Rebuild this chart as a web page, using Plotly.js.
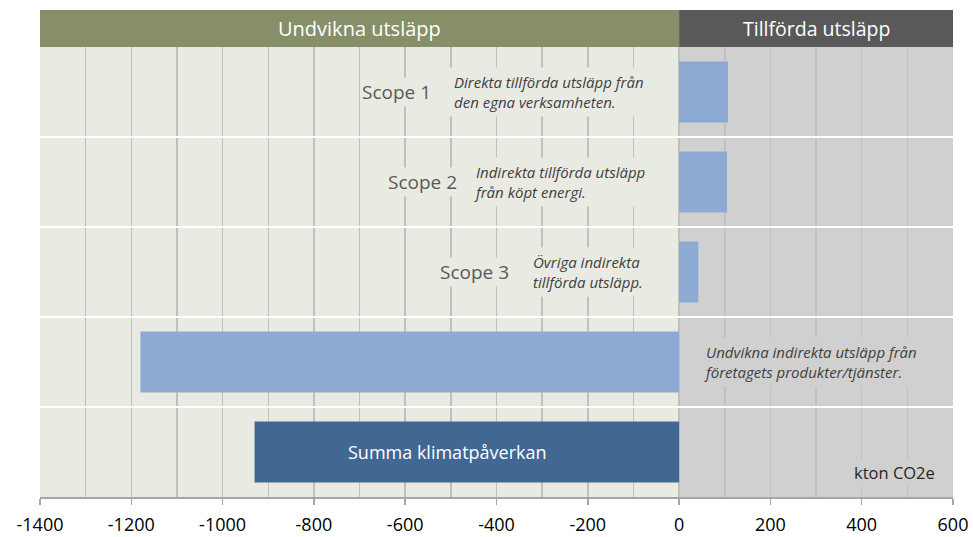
<!DOCTYPE html>
<html>
<head>
<meta charset="utf-8">
<script src="https://cdn.plot.ly/plotly-3.0.1.min.js"></script>
<style>html,body{margin:0;padding:0;background:#fff;}#chart{width:973px;height:537px;}</style>
</head>
<body>
<div id="chart"></div>
<script>
// Data
const categories = ['Scope 1', 'Scope 2', 'Scope 3', 'Undvikna', 'Summa klimatpåverkan'];
const values = [107, 105, 42, -1180, -930];
const barColors = ['#8dabd2', '#8dabd2', '#8dabd2', '#8dabd2', '#406892'];
const headerLabels = ['Undvikna utsläpp', 'Tillförda utsläpp'];
const scopeLabels = ['Scope 1', 'Scope 2', 'Scope 3'];
const scopeLabelX = [-620, -563, -449];
const descriptions = [
  'Direkta tillförda utsläpp från<br>den egna verksamheten.',
  'Indirekta tillförda utsläpp<br>från köpt energi.',
  'Övriga indirekta<br>tillförda utsläpp.',
  'Undvikna indirekta utsläpp från<br>företagets produkter/tjänster.'
];
const descX = [-504, -460, -331, 44];
const sumLabel = 'Summa klimatpåverkan';
const unitLabel = 'kton CO2e';
const xTicks = [-1400, -1200, -1000, -800, -600, -400, -200, 0, 200, 400, 600];

const trace = {
  type: 'bar',
  orientation: 'h',
  y: categories,
  x: values,
  marker: {color: barColors},
  width: 0.68,
  hoverinfo: 'x+y'
};

const leftBg = '#e9ebe2';
const rightBg = '#d0d0d0';

const annotations = [];
scopeLabels.forEach((s, i) => {
  annotations.push({x: scopeLabelX[i], y: categories[i], text: s, showarrow: false,
    xanchor: 'center', yanchor: 'middle', bgcolor: leftBg, borderpad: 1,
    font: {family: 'Open Sans, sans-serif', size: 19, color: '#595959'}});
});
descriptions.forEach((d, i) => {
  annotations.push({x: descX[i], y: categories[i], text: '<i>' + d + '</i>', showarrow: false,
    xanchor: 'left', yanchor: 'middle', align: 'left', bgcolor: i < 3 ? leftBg : rightBg, borderpad: 4,
    font: {family: 'Open Sans, sans-serif', size: 15, color: '#404040'}});
});
annotations.push({x: -508, y: categories[4], text: sumLabel, showarrow: false,
  xanchor: 'center', yanchor: 'middle',
  font: {family: 'Open Sans, sans-serif', size: 18, color: '#ffffff'}});
annotations.push({x: 378, y: categories[4], yshift: -20, text: unitLabel, showarrow: false,
  xanchor: 'left', yanchor: 'middle', bgcolor: rightBg,
  font: {family: 'Open Sans, sans-serif', size: 16.5, color: '#262626'}});
annotations.push({x: -700, y: 1.041, yref: 'paper', text: headerLabels[0], showarrow: false,
  xanchor: 'center', yanchor: 'middle',
  font: {family: 'Open Sans, sans-serif', size: 20, color: '#ffffff'}});
annotations.push({x: 300, y: 1.041, yref: 'paper', text: headerLabels[1], showarrow: false,
  xanchor: 'center', yanchor: 'middle',
  font: {family: 'Open Sans, sans-serif', size: 19.5, color: '#ffffff'}});

const shapes = [
  {type: 'rect', xref: 'x', yref: 'paper', x0: -1400, x1: 0, y0: 0, y1: 1, fillcolor: leftBg, line: {width: 0}, layer: 'below'},
  {type: 'rect', xref: 'x', yref: 'paper', x0: 0, x1: 600, y0: 0, y1: 1, fillcolor: rightBg, line: {width: 0}, layer: 'below'},
  {type: 'rect', xref: 'x', yref: 'paper', x0: -1400, x1: 0, y0: 1, y1: 1 + 37/450, fillcolor: '#868f68', line: {width: 0}},
  {type: 'rect', xref: 'x', yref: 'paper', x0: 0, x1: 600, y0: 1, y1: 1 + 37/450, fillcolor: '#595959', line: {width: 0}}
];

const layout = {
  width: 973, height: 537,
  margin: {l: 40, r: 20, t: 47, b: 40},
  paper_bgcolor: '#ffffff',
  plot_bgcolor: 'rgba(0,0,0,0)',
  showlegend: false,
  xaxis: {
    range: [-1400, 600], tickvals: xTicks, ticktext: xTicks.map(String),
    showgrid: true, gridcolor: '#c0c0c0', gridwidth: 1.5,
    minor: {dtick: 100, tick0: 0, showgrid: true, gridcolor: '#c0c0c0', gridwidth: 1.5, ticklen: 0},
    zeroline: false,
    showline: true, linecolor: '#a6a6a6', linewidth: 1.5,
    ticks: 'outside', ticklen: 6, tickcolor: '#a6a6a6', tickwidth: 1.5,
    ticklabelstandoff: 5,
    tickfont: {family: 'Open Sans, sans-serif', size: 18, color: '#000000'},
    fixedrange: true
  },
  yaxis: {
    type: 'category', categoryorder: 'array', categoryarray: categories,
    autorange: 'reversed', tickson: 'boundaries',
    showgrid: true, gridcolor: '#ffffff', gridwidth: 2,
    showticklabels: false, ticks: '', zeroline: false, showline: false,
    fixedrange: true
  },
  shapes: shapes,
  annotations: annotations
};

Plotly.newPlot('chart', [trace], layout, {displayModeBar: false, staticPlot: true});
</script>
</body>
</html>
